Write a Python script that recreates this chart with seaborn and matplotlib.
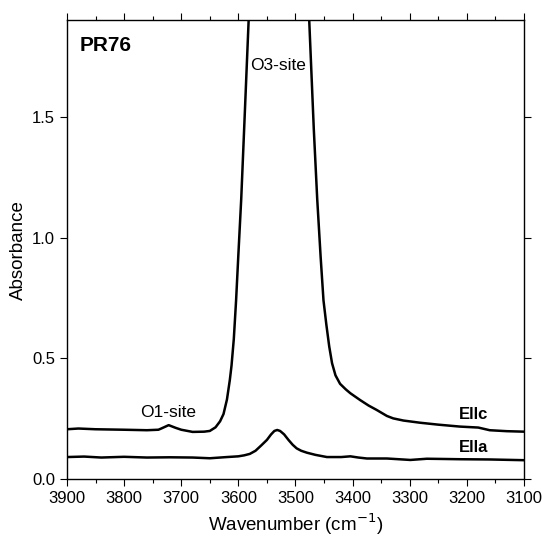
import matplotlib
matplotlib.use("Agg")
import matplotlib.pyplot as plt
import seaborn as sns
import pandas as pd
from matplotlib.ticker import MultipleLocator

sns.set_theme(style="ticks")
plt.rcParams['font.family'] = ['Liberation Sans', 'DejaVu Sans']
plt.rcParams['text.color'] = 'black'
plt.rcParams['axes.labelcolor'] = 'black'

# Ellc spectrum (wavenumber, absorbance)
ellc_wn = [3900, 3880, 3850, 3800, 3760, 3740, 3735, 3722, 3710, 3700, 3680, 3660,
           3650, 3640, 3632, 3626, 3620, 3615, 3612, 3608, 3604, 3600, 3595, 3589, 3582,
           3560, 3530, 3500, 3476, 3468, 3462, 3456, 3451, 3446, 3441, 3436, 3430, 3422,
           3412, 3404, 3387, 3372, 3358, 3340, 3329, 3311, 3282, 3250, 3212, 3180, 3160,
           3130, 3100]
ellc_abs = [0.207, 0.210, 0.207, 0.205, 0.203, 0.205, 0.210, 0.224, 0.213, 0.205, 0.196, 0.197,
            0.200, 0.215, 0.240, 0.270, 0.330, 0.410, 0.470, 0.580, 0.740, 0.930, 1.160, 1.500, 1.900,
            2.800, 3.200, 2.800, 1.900, 1.450, 1.160, 0.920, 0.740, 0.640, 0.550, 0.480, 0.430, 0.395,
            0.372, 0.356, 0.328, 0.305, 0.287, 0.262, 0.252, 0.243, 0.234, 0.226, 0.218, 0.214, 0.203,
            0.199, 0.197]

# Ella spectrum
ella_wn = [3900, 3870, 3840, 3800, 3760, 3720, 3680, 3650, 3620, 3600, 3590, 3580, 3570,
           3560, 3550, 3543, 3537, 3532, 3527, 3520, 3512, 3505, 3498, 3490, 3480, 3465,
           3445, 3420, 3404, 3390, 3375, 3340, 3299, 3270, 3240, 3212, 3160, 3100]
ella_abs = [0.092, 0.094, 0.090, 0.093, 0.090, 0.091, 0.090, 0.087, 0.092, 0.095, 0.099, 0.105, 0.118,
            0.140, 0.163, 0.185, 0.200, 0.204, 0.200, 0.186, 0.162, 0.143, 0.128, 0.118, 0.110, 0.101,
            0.092, 0.092, 0.095, 0.090, 0.086, 0.086, 0.080, 0.085, 0.084, 0.083, 0.082, 0.079]

x_ticks = [3900, 3800, 3700, 3600, 3500, 3400, 3300, 3200, 3100]
y_ticks = [0.0, 0.5, 1.0, 1.5]

df = pd.concat([
    pd.DataFrame({"wn": ellc_wn, "abs": ellc_abs, "pol": "Ellc"}),
    pd.DataFrame({"wn": ella_wn, "abs": ella_abs, "pol": "Ella"}),
])

fig = plt.figure(figsize=(5.42, 5.36), dpi=100)
ax = fig.add_axes([0.1236, 0.1058, 0.8432, 0.8569])
sns.lineplot(data=df, x="wn", y="abs", hue="pol", units="pol", estimator=None, sort=False,
             palette={"Ellc": "black", "Ella": "black"}, linewidth=1.8, legend=False, ax=ax)

ax.set_xlim(3900, 3100)
ax.set_ylim(0, 1.9)
ax.set_xticks(x_ticks)
ax.set_yticks(y_ticks)
ax.set_yticklabels([f"{v:.1f}" for v in y_ticks])
ax.xaxis.set_minor_locator(MultipleLocator(50))
ax.tick_params(axis="both", which="major", direction="out", length=5, width=0.8,
               labelsize=12, colors="black", top=True, right=True)
ax.tick_params(axis="x", which="minor", direction="out", length=3, width=0.8, top=True, bottom=True,
               colors="black")
for s in ax.spines.values():
    s.set_linewidth(1.0)
    s.set_color("black")

ax.set_xlabel("Wavenumber (cm$^{-1}$)", fontsize=13.5, color="black")
ax.set_ylabel("Absorbance", fontsize=13.5, color="black")

ax.text(0.027, 0.965, "PR76", transform=ax.transAxes, fontsize=15, fontweight="bold",
        ha="left", va="top", color="black")
ax.text(3530, 1.71, "O3-site", fontsize=12.5, ha="center", va="center", color="black")
ax.text(3723, 0.278, "O1-site", fontsize=12.5, ha="center", va="center", color="black")
ax.text(3163, 0.267, "Ellc", fontsize=12, fontweight="bold", ha="right", va="center", color="black")
ax.text(3163, 0.130, "Ella", fontsize=12, fontweight="bold", ha="right", va="center", color="black")

fig.savefig("out.png", dpi=100)
